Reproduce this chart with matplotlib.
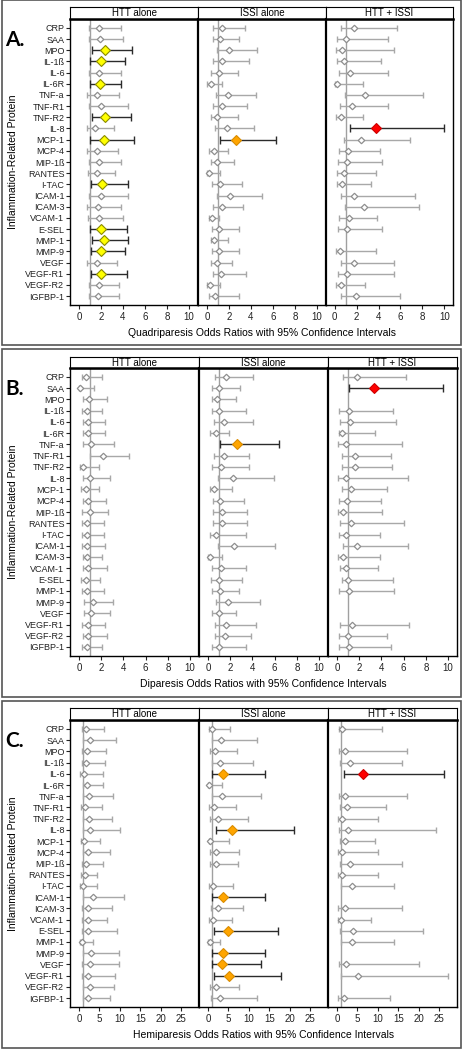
import numpy as np
import matplotlib.pyplot as plt
from matplotlib.patches import Rectangle

plt.rcParams['font.family'] = ['Liberation Sans', 'DejaVu Sans']

nan = np.nan
proteins = ['CRP', 'SAA', 'MPO', 'IL-1ß', 'IL-6', 'IL-6R', 'TNF-a', 'TNF-R1', 'TNF-R2', 'IL-8',
            'MCP-1', 'MCP-4', 'MIP-1ß', 'RANTES', 'I-TAC', 'ICAM-1', 'ICAM-3', 'VCAM-1', 'E-SEL',
            'MMP-1', 'MMP-9', 'VEGF', 'VEGF-R1', 'VEGF-R2', 'IGFBP-1']
groups = ['HTT alone', 'ISSI alone', 'HTT + ISSI']

# A. quadriparesis
a_htt_or = [1.84, 1.96, 2.36, 2.05, 1.81, 1.96, 1.66, 2.05, 2.36, 1.45, 2.27, 1.66, 1.84, 1.66, 2.14, 2.02, 1.75, 1.84, 2.05, 2.27, 2.05, 1.66, 2.05, 1.84, 1.75]
a_htt_lo = [0.88, 0.94, 1.18, 1.05, 0.88, 1.05, 0.76, 0.94, 1.18, 0.70, 1.05, 0.76, 0.88, 0.82, 1.06, 0.94, 0.76, 0.85, 1.05, 1.18, 1.06, 0.76, 1.06, 0.88, 0.88]
a_htt_hi = [3.84, 3.96, 4.86, 4.17, 3.78, 3.84, 3.63, 4.44, 4.74, 3.20, 4.98, 3.56, 3.84, 3.29, 4.44, 4.44, 3.84, 3.96, 4.38, 4.44, 4.17, 3.44, 4.38, 3.66, 3.66]
a_issi_or = [1.42, 1.20, 2.05, 1.36, 1.09, 0.36, 1.90, 1.36, 0.90, 1.81, 2.66, 0.66, 0.96, 0.24, 1.20, 2.11, 1.36, 0.48, 1.09, 0.69, 1.09, 0.90, 1.27, 0.30, 0.78]
a_issi_lo = [0.60, 0.54, 0.96, 0.54, 0.42, 0.05, 0.84, 0.60, 0.36, 0.72, 1.20, 0.24, 0.42, 0.05, 0.50, 0.96, 0.60, 0.24, 0.45, 0.36, 0.45, 0.36, 0.60, 0.05, 0.24]
a_issi_hi = [3.47, 2.96, 4.59, 3.86, 2.87, 1.36, 4.47, 3.68, 2.78, 4.29, 6.25, 1.90, 2.47, 1.20, 3.17, 5.04, 3.32, 1.14, 2.96, 1.90, 2.96, 2.30, 3.54, 1.20, 2.96]
a_both_or = [1.76, 1.06, 0.70, 0.88, 1.36, 0.21, 2.73, 1.58, 0.55, 3.79, 2.36, 1.24, 1.15, 0.82, 0.70, 1.76, 2.67, 1.27, 1.15, nan, 0.45, 1.76, 1.15, 0.55, 1.91]
a_both_lo = [0.60, 0.21, 0.09, 0.21, 0.39, 0.03, 0.97, 0.52, 0.09, 1.36, 0.82, 0.39, 0.27, 0.21, 0.21, 0.60, 0.91, 0.39, 0.27, nan, 0.09, 0.60, 0.27, 0.09, 0.60]
a_both_hi = [5.67, 4.88, 5.45, 4.18, 4.88, 2.58, 8.03, 4.88, 2.58, 9.94, 6.88, 4.09, 4.30, 3.79, 3.30, 7.36, 7.67, 3.88, 4.30, nan, 3.79, 5.45, 5.45, 2.76, 5.97]
a_sig_htt = ['MPO', 'IL-1ß', 'IL-6R', 'TNF-R2', 'MCP-1', 'I-TAC', 'E-SEL', 'MMP-1', 'MMP-9', 'VEGF-R1']
a_sig_issi = ['MCP-1']
a_sig_both = ['IL-8']

# B. diparesis
b_htt_or = [0.60, 0.12, 0.91, 0.76, 0.82, 0.82, 1.06, 2.14, 0.39, 1.00, 0.60, 0.82, 1.00, 0.76, 0.76, 0.76, 0.76, 0.85, 0.60, 0.76, 1.24, 1.09, 0.82, 0.85, 0.76]
b_htt_lo = [0.24, 0.00, 0.39, 0.24, 0.39, 0.39, 0.39, 1.00, 0.09, 0.39, 0.18, 0.39, 0.30, 0.24, 0.24, 0.24, 0.33, 0.33, 0.18, 0.24, 0.45, 0.45, 0.24, 0.33, 0.24]
b_htt_hi = [2.11, 1.36, 2.54, 2.11, 2.39, 2.39, 3.17, 4.53, 1.84, 2.81, 1.84, 2.45, 2.66, 2.24, 2.24, 2.39, 2.05, 2.51, 1.90, 2.24, 3.11, 2.81, 2.36, 2.51, 2.05]
b_issi_or = [1.67, 1.00, 0.82, 1.00, 1.45, 0.70, 2.64, 1.43, 1.18, 2.27, 0.55, 1.12, 1.27, 1.30, 0.70, 2.33, 0.22, 1.18, 0.97, 1.12, 1.79, 0.97, 1.61, 1.52, 0.97]
b_issi_lo = [0.61, 0.34, 0.34, 0.34, 0.55, 0.22, 1.12, 0.52, 0.34, 0.91, 0.15, 0.45, 0.45, 0.45, 0.22, 0.91, 0.00, 0.40, 0.31, 0.40, 0.70, 0.34, 0.61, 0.61, 0.34]
b_issi_hi = [4.09, 2.88, 2.52, 3.43, 4.03, 1.91, 6.43, 3.73, 3.73, 5.91, 2.18, 3.25, 3.55, 3.55, 3.43, 6.06, 1.30, 3.43, 3.03, 2.82, 4.70, 2.55, 4.34, 3.85, 3.43]
b_both_or = [1.80, 3.30, nan, 1.08, 1.20, 0.42, 0.78, 1.59, 1.59, 0.78, 1.26, 0.90, 0.54, 1.29, 0.78, 1.80, 0.54, 0.78, 0.99, 1.08, nan, nan, 1.38, 0.99, 1.08]
b_both_lo = [0.54, 1.08, nan, 0.18, 0.30, 0.18, 0.12, 0.48, 0.48, 0.12, 0.42, 0.18, 0.09, 0.30, 0.18, 0.54, 0.12, 0.24, 0.42, 0.18, nan, nan, 0.30, 0.18, 0.18]
b_both_hi = [6.25, 9.55, nan, 5.05, 5.29, 3.39, 5.89, 4.89, 4.98, 6.40, 4.50, 3.99, 4.08, 6.00, 3.84, 6.40, 3.84, 3.69, 5.05, 5.11, nan, nan, 6.49, 4.50, 4.89]
b_sig_htt = []
b_sig_issi = ['TNF-a']
b_sig_both = ['SAA']

# C. hemiparesis
c_htt_or = [1.8, 2.7, 1.9, 1.7, 1.2, 2.0, 2.4, 1.55, 2.4, 2.7, 1.3, 2.2, 1.7, 1.5, 1.1, 3.35, 2.3, 2.1, 2.3, 0.65, 2.9, 2.7, 2.1, 2.7, 2.1]
c_htt_lo = [0.65, 0.9, 0.65, 0.65, 0.25, 0.9, 0.9, 0.57, 0.9, 0.9, 0.5, 0.9, 0.65, 0.5, 0.25, 1.0, 0.82, 0.82, 0.74, 0.25, 1.0, 0.82, 0.65, 1.0, 0.9]
c_htt_hi = [6.1, 9.1, 6.5, 6.4, 6.0, 6.0, 8.4, 5.6, 8.1, 10.0, 5.1, 7.6, 6.0, 4.3, 4.5, 11.1, 8.0, 6.8, 9.4, 3.5, 9.8, 9.9, 8.8, 8.6, 7.6]
c_issi_or = [1.07, 3.27, 1.7, 2.85, 3.66, 0.24, 3.5, 1.4, 2.4, 5.85, 0.58, 1.9, 1.9, nan, 1.2, 3.66, 2.44, 1.2, 4.97, 0.4, 3.66, 3.5, 5.1, 1.9, 2.85]
c_issi_lo = [0.24, 0.9, 0.58, 0.9, 1.07, 0.0, 0.9, 0.24, 0.58, 1.9, 0.24, 0.58, 0.58, nan, 0.24, 1.07, 0.82, 0.24, 1.4, 0.0, 1.07, 1.07, 1.4, 0.58, 0.82]
c_issi_hi = [5.5, 12.0, 7.2, 11.0, 14.0, 3.5, 13.0, 6.75, 9.75, 21.0, 5.1, 7.6, 7.4, nan, 6.1, 14.0, 8.7, 5.95, 17.1, 3.0, 14.0, 13.0, 17.9, 7.6, 12.0]
c_both_or = [1.3, nan, 1.9, 3.3, 6.4, nan, 1.9, 2.45, 1.3, 2.7, 1.9, 1.3, 3.1, 1.3, 3.7, nan, 1.9, 1.06, 3.9, 3.7, nan, 2.1, 5.15, nan, 1.63]
c_both_lo = [0.5, nan, 0.5, 0.8, 1.63, nan, 0.5, 0.65, 0.25, 0.5, 0.65, 0.33, 0.8, 0.25, 0.9, nan, 0.33, 0.25, 0.8, 1.06, nan, 0.4, 0.9, nan, 0.33]
c_both_hi = [11.1, nan, 17.2, 16.0, 26.1, nan, 17.2, 12.1, 10.0, 24.2, 9.4, 10.0, 16.0, 10.0, 14.0, nan, 16.0, 8.4, 21.1, 14.0, nan, 20.1, 27.2, nan, 13.1]
c_sig_htt = []
c_sig_issi = ['IL-6', 'IL-8', 'ICAM-1', 'E-SEL', 'MMP-9', 'VEGF', 'VEGF-R1']
c_sig_both = ['IL-6']

W, H = 466, 1050
fig = plt.figure(figsize=(W / 100, H / 100), dpi=100)

def fbox(x0, y0, x1, y1):
    return [x0 / W, 1 - y1 / H, (x1 - x0) / W, (y1 - y0) / H]

gray_line = '#a8a8a8'
gray_mark = '#8e8e8e'
dark = '#2b2b2b'
hl_colors = ['#ffff00', '#ffa500', '#ff0000']
hl_edges = ['#8a8a00', '#d98c00', '#cc0000']

panels = [
    ('A.', 'Quadriparesis', (7, 19, 305), [70, 198, 326, 453], (0, 345), (-0.8, 10.8), np.arange(0, 11, 2),
     [(a_htt_or, a_htt_lo, a_htt_hi, a_sig_htt), (a_issi_or, a_issi_lo, a_issi_hi, a_sig_issi),
      (a_both_or, a_both_lo, a_both_hi, a_sig_both)]),
    ('B.', 'Diparesis', (357, 368, 656), [70, 199, 328, 457], (349, 697), (-0.8, 10.8), np.arange(0, 11, 2),
     [(b_htt_or, b_htt_lo, b_htt_hi, b_sig_htt), (b_issi_or, b_issi_lo, b_issi_hi, b_sig_issi),
      (b_both_or, b_both_lo, b_both_hi, b_sig_both)]),
    ('C.', 'Hemiparesis', (708, 720, 1007), [70, 199, 328, 457], (701, 1048), (-2.2, 29.4), np.arange(0, 26, 5),
     [(c_htt_or, c_htt_lo, c_htt_hi, c_sig_htt), (c_issi_or, c_issi_lo, c_issi_hi, c_sig_issi),
      (c_both_or, c_both_lo, c_both_hi, c_sig_both)]),
]

ypos = np.arange(len(proteins))

for letter, outcome, (yh, yt, yb), xs, (pb0, pb1), xlim, xticks, series in panels:
    fig.patches.append(Rectangle((2 / W, 1 - pb1 / H), 459 / W, (pb1 - pb0) / H,
                                 transform=fig.transFigure, fill=False, ec='#555555', lw=1.2))
    for g in range(3):
        orv, lov, hiv, sig = series[g]
        orv, lov, hiv = np.array(orv), np.array(lov), np.array(hiv)
        ax = fig.add_axes(fbox(xs[g], yt, xs[g + 1], yb))
        ax.axvline(1, color='#a0a0a0', lw=1, zorder=1)
        s = np.array([p in sig for p in proteins])
        ok = ~np.isnan(orv)
        m = ok & ~s
        ax.errorbar(orv[m], ypos[m], xerr=[orv[m] - lov[m], hiv[m] - orv[m]], fmt='none',
                    ecolor=gray_line, elinewidth=1, capsize=2.5, capthick=1, zorder=2)
        ax.plot(orv[m], ypos[m], 'D', ms=3.3, mfc='white', mec=gray_mark, mew=0.9, zorder=3)
        m = ok & s
        if m.any():
            ax.errorbar(orv[m], ypos[m], xerr=[orv[m] - lov[m], hiv[m] - orv[m]], fmt='none',
                        ecolor=dark, elinewidth=1, capsize=3, capthick=1, zorder=2)
            ax.plot(orv[m], ypos[m], 'D', ms=5.5, mfc=hl_colors[g], mec=hl_edges[g], mew=0.8, zorder=4)
        ax.set_xlim(*xlim)
        ax.set_ylim(len(proteins) - 0.2, -0.8)
        ax.set_xticks(xticks)
        ax.tick_params(axis='x', labelsize=7, length=3, width=0.8, pad=2, colors='#222222')
        ax.set_yticks(ypos)
        if g == 0:
            ax.set_yticklabels(proteins)
            ax.tick_params(axis='y', labelsize=6.5, length=3, width=0.8, pad=1, colors='#222222')
        else:
            ax.tick_params(axis='y', left=False, labelleft=False)
        for sp in ax.spines.values():
            sp.set_linewidth(1.0)
        ax.spines['left'].set_linewidth(1.6 if g > 0 else 1.0)

        hx = fig.add_axes(fbox(xs[g], yh, xs[g + 1], yt))
        hx.set_xticks([])
        hx.set_yticks([])
        hx.spines['bottom'].set_linewidth(1.8)
        hx.text(0.5, 0.5, groups[g], ha='center', va='center', fontsize=7, transform=hx.transAxes)

    yc = (yt + yb) / 2
    fig.text(13 / W, 1 - yc / H, 'Inflammation-Related Protein', rotation=90, ha='center', va='center',
             fontsize=7.5)
    fig.text((xs[0] + xs[3]) / 2 / W, 1 - (yb + 28) / H,
             outcome + ' Odds Ratios with 95% Confidence Intervals', ha='center', va='center', fontsize=7.5)
    fig.text(5 / W, 1 - (yt + 21) / H, letter, ha='left', va='center', fontsize=15, fontweight='bold',
             family=['Lato', 'DejaVu Sans'])

fig.savefig('out.png', dpi=100)
